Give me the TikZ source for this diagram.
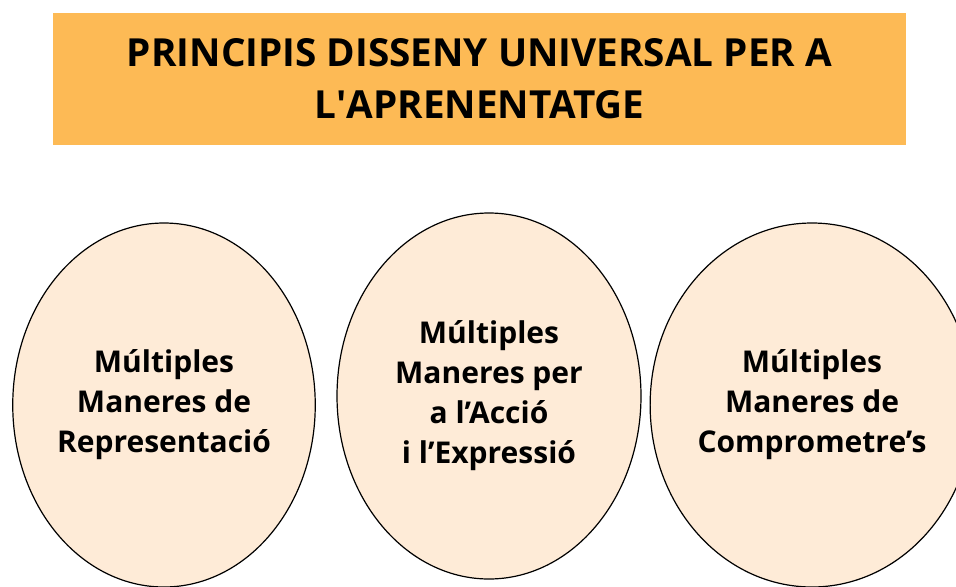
\documentclass[tikz,border=0pt]{standalone}
\usepackage{fontspec}
\setmainfont{Open Sans}
\usetikzlibrary{shapes.geometric, positioning}
\definecolor{taronja}{HTML}{FDBA55}
\definecolor{crema}{HTML}{FEEBD7}

\begin{document}
\begin{tikzpicture}[x=0.75pt, y=-0.75pt,
    titol/.style={rectangle, fill=taronja, minimum width=640pt, minimum height=99pt, align=center, font=\bfseries\fontsize{29}{39}\selectfont},
    principi/.style={ellipse, draw, fill=crema, line width=0.9pt, inner sep=0pt, align=center, font=\bfseries\fontsize{22.5}{30}\selectfont}]
            \useasboundingbox (0,0) rectangle (956,586);

            % Title
            \node[titol] (titol) at (479.5,79) {PRINCIPIS DISSENY UNIVERSAL PER A\\L\textquotesingle APRENENTATGE};

            % Principles
            \node[principi, minimum width=226.5pt, minimum height=273pt] (repr) at (164,405) {Múltiples\\Maneres de\\Representació};
            \node[principi, minimum width=228pt, minimum height=274.5pt] (accio) at (489,396) {Múltiples\\Maneres per\\a l’Acció\\ i l’Expressió};
            \node[principi, minimum width=222pt, minimum height=273pt] (compr) at (812,405) {Múltiples\\Maneres de\\Comprometre’s};
        \end{tikzpicture}
\end{document}
